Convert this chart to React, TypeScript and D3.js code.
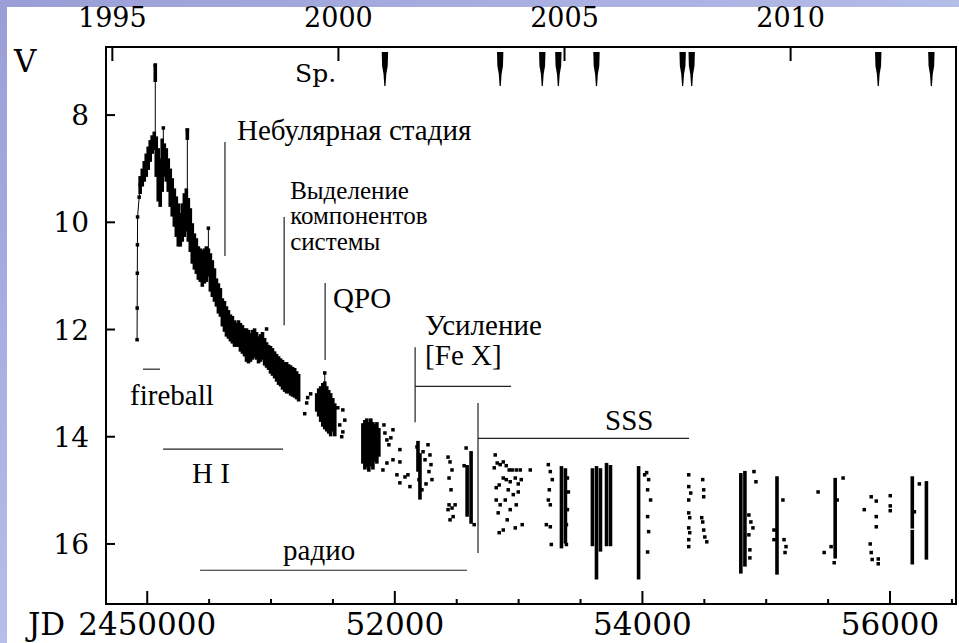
import React from 'react';
import * as d3 from 'd3';

// V light curve of the nova, magnitudes against JD - 2450000

const W = 959;
const H = 643;
const FRAME = { left: 106, top: 47, right: 956, bottom: 604 };

const jdMajorTicks = [0, 2000, 4000, 6000];
const jdMajorLabels = ['2450000', '52000', '54000', '56000'];
const jdMinorTicks = [500, 1000, 1500, 2500, 3000, 3500, 4500, 5000, 5500, 6500];
const yearTicks = [1995, 2000, 2005, 2010];
const magTicks = [8, 10, 12, 14, 16];

// Epochs of spectroscopic observations
const spectraJD = [1920, 2851, 3191, 3321, 3629, 4325, 4398, 5905, 6334];

// Rise to maximum, observations joined by a line: [JD, V]
const risePoints: [number, number][] = [
  [-82, 12.19], [-81, 11.6], [-80, 10.95], [-79, 10.42], [-78, 9.9], [-65, 9.53], [-57, 9.3],
];

// Densely covered intervals: [JD, brightest V, faintest V]
const denseRanges: [number, number, number][] = [
  [-57, 9.17, 9.44], [-40, 9.03, 9.3], [-24, 8.89, 9.21], [-8, 8.75, 9.12], [8, 8.62, 8.99],
  [24, 8.5, 8.84], [40, 8.41, 8.69], [57, 8.34, 8.62], [65, 7.07, 7.35], [73, 8.43, 9.12],
  [89, 8.65, 9.58], [105, 8.84, 9.68], [121, 8.47, 9.4], [138, 8.56, 9.12], [154, 8.65, 9.21],
  [170, 8.84, 9.4], [186, 9.03, 9.68], [202, 9.21, 9.86], [219, 9.4, 10.05], [235, 9.55, 10.24],
  [251, 9.68, 10.42], [267, 9.86, 10.42], [283, 9.68, 10.33], [300, 9.49, 10.24], [316, 9.4, 10.14],
  [324, 8.28, 8.43], [332, 9.58, 10.33], [348, 9.77, 10.52], [364, 10.05, 10.74], [381, 10.24, 10.85],
  [397, 10.33, 10.93], [413, 10.48, 11.04], [429, 10.52, 11.08], [445, 10.55, 11.17], [462, 10.52, 11.11],
  [478, 10.48, 11.08], [494, 10.52, 10.98], [510, 10.61, 11.26], [526, 10.74, 11.36], [543, 10.89, 11.45],
  [559, 11.08, 11.54], [575, 11.17, 11.67], [591, 11.26, 11.73], [607, 11.45, 11.91], [624, 11.5, 12.01],
  [640, 11.6, 12.1], [656, 11.67, 12.14], [672, 11.75, 12.19], [688, 11.78, 12.23], [705, 11.86, 12.29],
  [721, 11.91, 12.29], [737, 11.86, 12.29], [753, 11.91, 12.38], [769, 11.95, 12.42], [786, 12.01, 12.47],
  [802, 12.01, 12.57], [818, 12.04, 12.6], [834, 12.1, 12.57], [850, 12.04, 12.53], [867, 12.01, 12.49],
  [883, 12.08, 12.53], [899, 12.16, 12.6], [915, 12.12, 12.57], [931, 12.08, 12.53], [948, 12.19, 12.64],
  [964, 12.27, 12.68], [980, 12.32, 12.72], [996, 12.34, 12.79], [1012, 12.38, 12.83], [1029, 12.44, 12.88],
  [1045, 12.49, 12.94], [1061, 12.53, 13.0], [1077, 12.57, 13.03], [1093, 12.6, 13.09], [1110, 12.64, 13.13],
  [1126, 12.64, 13.16], [1142, 12.68, 13.16], [1158, 12.7, 13.2], [1174, 12.73, 13.22], [1191, 12.75, 13.24],
  [1207, 12.81, 13.27], [1223, 12.86, 13.31],
  [1369, 13.22, 13.5], [1385, 13.13, 13.59], [1401, 13.09, 13.69], [1418, 13.03, 13.78], [1434, 13.0, 13.83],
  [1450, 13.09, 13.87], [1466, 13.16, 13.91], [1482, 13.22, 13.96], [1499, 13.31, 13.87], [1515, 13.41, 13.96],
  [1742, 13.78, 14.47], [1758, 13.72, 14.58], [1774, 13.69, 14.54], [1790, 13.76, 14.62], [1806, 13.69, 14.52],
  [1823, 13.76, 14.58], [1839, 13.8, 14.43], [1855, 13.76, 14.47], [1871, 13.87, 14.34],
  [2187, 14.11, 14.62], [2203, 14.34, 15.14],
  [2584, 14.56, 15.46], [2616, 14.3, 15.59],
  [3346, 14.58, 16.05], [3378, 14.62, 15.96],
  [3596, 14.62, 16.01], [3629, 14.58, 16.63], [3661, 14.62, 16.11], [3710, 14.52, 16.01], [3742, 14.56, 16.01],
  [3969, 14.58, 16.63],
  [4795, 14.71, 16.52], [4828, 14.67, 16.39],
  [5087, 14.77, 16.54],
  [5557, 14.8, 16.24],
  [6180, 14.77, 15.68], [6180, 15.77, 16.35], [6294, 14.86, 16.26],
];

// Short flares: [JD, peak V, V at the foot of the flare]
const flares: [number, number, number][] = [
  [65, 7.07, 8.4], [130, 8.24, 8.9], [324, 8.28, 9.55], [494, 10.11, 10.6], [1434, 12.81, 13.1],
];

// Single observations: [JD, V]
const singleObs: [number, number][] = [
  [964, 11.99], [1215, 13.26], [1296, 13.27], [1288, 13.37], [1272, 13.57], [1320, 13.2],
  [1539, 13.46], [1555, 13.78], [1580, 13.5], [1580, 13.91], [1571, 14.0], [1596, 13.69],
  [1912, 13.78], [1920, 13.93], [1936, 14.06], [1952, 14.15], [1968, 14.02], [1985, 13.87], [1985, 14.43],
  [2041, 14.24], [2041, 14.47], [1936, 14.49], [1904, 14.62], [2017, 14.71], [2041, 14.86], [2082, 14.75],
  [2122, 14.93], [2106, 14.71],
  [2179, 14.19], [2228, 14.28], [2244, 14.43], [2268, 14.15], [2284, 14.34], [2292, 14.52], [2276, 14.65],
  [2300, 14.8], [2252, 14.88], [2219, 14.99], [2195, 14.8],
  [2430, 14.38], [2446, 14.47], [2462, 14.62], [2438, 14.77], [2454, 14.99], [2438, 15.27], [2430, 15.36],
  [2462, 15.33], [2487, 15.27], [2471, 15.49], [2446, 15.55],
  [2576, 14.21], [2641, 15.64], [2560, 14.54],
  [2811, 14.34], [2827, 14.49], [2803, 14.58], [2851, 14.52], [2876, 14.47], [2900, 14.54], [2924, 14.62],
  [2948, 14.62], [2981, 14.62], [3013, 14.62], [2876, 14.77], [2900, 14.8], [2932, 14.84], [2973, 14.77],
  [2997, 14.88], [3021, 14.8], [2819, 14.95], [2843, 14.9], [2916, 14.99], [2957, 15.08], [2997, 15.03],
  [2819, 15.18], [2851, 15.27], [2892, 15.18], [2932, 15.36], [2981, 15.27], [2835, 15.42], [2908, 15.55],
  [2973, 15.7], [2876, 15.74], [2843, 15.79], [3029, 15.64], [3094, 14.62],
  [3240, 14.52], [3256, 14.65], [3272, 14.8], [3248, 14.99], [3256, 15.27], [3224, 15.64], [3256, 15.68],
  [3264, 16.01], [3240, 15.18], [3394, 14.77], [3402, 15.03], [3394, 15.36], [3386, 15.64], [3386, 16.01],
  [4034, 14.67], [4050, 14.8], [4042, 14.99], [4066, 15.18], [4042, 15.49], [4050, 15.77], [4042, 16.15],
  [4018, 14.71],
  [4374, 14.71], [4374, 14.93], [4390, 15.05], [4374, 15.18], [4374, 15.42], [4382, 15.51], [4374, 15.7],
  [4382, 15.79], [4374, 15.92], [4374, 16.05], [4487, 14.8], [4495, 14.99], [4495, 15.12], [4479, 15.51],
  [4487, 15.59], [4495, 15.74], [4504, 15.87], [4520, 15.96],
  [4901, 14.65], [4917, 14.84], [4876, 15.59], [4893, 15.7], [4868, 16.11], [4868, 16.26], [4860, 15.46],
  [4860, 15.83],
  [5135, 15.18], [5144, 15.92], [5160, 16.05], [5152, 16.16], [5063, 15.74], [5063, 15.92],
  [5419, 15.03], [5468, 16.16], [5549, 16.35], [5621, 14.77], [5524, 16.05], [5573, 15.18],
  [5848, 15.12], [5889, 15.2], [5792, 15.36], [5889, 15.49], [5889, 15.68], [5840, 16.0], [5848, 16.16],
  [5856, 16.29], [5905, 16.28], [5905, 16.37], [6002, 15.1], [6002, 15.29], [6002, 15.38],
  [6237, 14.88], [6197, 15.4],
];

// Horizontal spans of physical phases: [label, JD from, JD to, V level]
const phaseSpans: [string, number, number, number][] = [
  ['fireball', -34, 103, 12.74],
  ['H I', 128, 1097, 14.23],
  ['радио', 427, 2583, 16.49],
];

// Marked events: text lines, JD, V range of the marker line, optional span to JD at V
type EventMark = { key: string; lines: string[]; jd: number; v0: number; v1: number; spanTo?: number; spanV?: number };
const eventMarks: EventMark[] = [
  { key: 'neb', lines: ['Небулярная стадия'], jd: 628, v0: 8.5, v1: 10.63 },
  { key: 'sep', lines: ['Выделение', 'компонентов', 'системы'], jd: 1106, v0: 9.9, v1: 11.92 },
  { key: 'qpo', lines: ['QPO'], jd: 1437, v0: 11.13, v1: 12.57 },
  { key: 'fex', lines: ['Усиление', '[Fe X]'], jd: 2164, v0: 12.33, v1: 13.73, spanTo: 2939, spanV: 13.06 },
  { key: 'sss', lines: ['SSS'], jd: 2672, v0: 13.37, v1: 16.17, spanTo: 4377, spanV: 14.03 },
];

// Text placement relative to each marker (pixels)
const spanLabelOffset: Record<string, [number, number]> = {
  fireball: [-13, 36],
  'H I': [29, 34],
  'радио': [83, -10],
};
const eventLabelStyle: Record<string, { dx: number; dy: number; from: 'top' | 'span'; size: number; lead: number }> = {
  neb: { dx: 12, dy: -2, from: 'top', size: 29, lead: 30 },
  sep: { dx: 6, dy: -18, from: 'top', size: 25, lead: 25.5 },
  qpo: { dx: 8, dy: 25, from: 'top', size: 29, lead: 30 },
  fex: { dx: 10, dy: -12, from: 'top', size: 29, lead: 30 },
  sss: { dx: 127, dy: -8, from: 'span', size: 29, lead: 30 },
};

const AXIS_FONT = "'DejaVu Serif', serif";
const NOTE_FONT = "'Liberation Serif', 'Times New Roman', serif";

const yearToJD = (yr: number) => (yr - 2000) * 365.25 + 1544.5;

export default function App() {
  const x = d3.scaleLinear().domain([-333, 6533]).range([FRAME.left, FRAME.right]);
  const y = d3.scaleLinear().domain([6.73, 17.12]).range([FRAME.top, FRAME.bottom]);

  const riseLine = d3.line<[number, number]>().x((d) => x(d[0])).y((d) => y(d[1]));
  const riseWithJoin: [number, number][] = [...risePoints, [denseRanges[0][0], (denseRanges[0][1] + denseRanges[0][2]) / 2]];

  const dot = 3.5;
  const barW = 3.6;
  const ink = '#000';
  const noteInk = '#222';

  // Spectrum marker: a narrow wedge hanging from the top of the frame
  const spMarker = (cx: number) => {
    const t = 52;
    return `M${cx - 3.2},${t} L${cx + 3.2},${t} L${cx + 2.8},${t + 14} L${cx + 1.4},${t + 22} L${cx + 0.6},${t + 34} L${cx - 0.6},${t + 34} L${cx - 1.4},${t + 22} L${cx - 2.8},${t + 14} Z`;
  };

  return (
    <svg width={W} height={H} viewBox={`0 0 ${W} ${H}`} style={{ position: 'absolute', left: 0, top: 0, background: '#fff' }}>
      <defs>
        <linearGradient id="edgeTop" x1="0" y1="0" x2="1" y2="0">
          <stop offset="0" stopColor="#9a9ed6" />
          <stop offset="1" stopColor="#b4bce8" />
        </linearGradient>
        <linearGradient id="edgeLeft" x1="0" y1="0" x2="0" y2="1">
          <stop offset="0" stopColor="#9a9ed6" />
          <stop offset="1" stopColor="#b6bee9" />
        </linearGradient>
      </defs>
      <rect x={0} y={0} width={W} height={H} fill="#fff" />
      <rect x={0} y={0} width={W} height={7} fill="url(#edgeTop)" />
      <rect x={0} y={0} width={7} height={H} fill="url(#edgeLeft)" />

      {/* phase spans */}
      {phaseSpans.map(([label, a, b, v]) => {
        const [dx, dy] = spanLabelOffset[label];
        return (
          <g key={label}>
            <line x1={x(a)} x2={x(b)} y1={y(v)} y2={y(v)} stroke={noteInk} strokeWidth={1.2} />
            <text x={x(a) + dx} y={y(v) + dy} fontFamily={NOTE_FONT} fontSize={29} fill={ink}>
              {label}
            </text>
          </g>
        );
      })}

      {/* event markers */}
      {eventMarks.map((m) => {
        const st = eventLabelStyle[m.key];
        const lx = x(m.jd);
        const baseY = st.from === 'span' && m.spanV !== undefined ? y(m.spanV) : y(m.v0);
        return (
          <g key={m.key}>
            <line x1={lx} x2={lx} y1={y(m.v0)} y2={y(m.v1)} stroke={noteInk} strokeWidth={1.2} />
            {m.spanTo !== undefined && m.spanV !== undefined && (
              <line x1={lx} x2={x(m.spanTo)} y1={y(m.spanV)} y2={y(m.spanV)} stroke={noteInk} strokeWidth={1.2} />
            )}
            {m.lines.map((t, i) => (
              <text key={t} x={lx + st.dx} y={baseY + st.dy + i * st.lead} fontFamily={NOTE_FONT} fontSize={st.size} fill={ink}>
                {t}
              </text>
            ))}
          </g>
        );
      })}

      {/* light curve */}
      <path d={riseLine(riseWithJoin) ?? ''} fill="none" stroke={ink} strokeWidth={1} />
      {flares.map(([jd, vp, vb], i) => (
        <g key={`f${i}`}>
          <line x1={x(jd)} x2={x(jd)} y1={y(vp)} y2={y(vb)} stroke={ink} strokeWidth={1} />
          <rect x={x(jd) - dot / 2} y={y(vp) - dot / 2} width={dot} height={dot} fill={ink} />
        </g>
      ))}
      {denseRanges.map(([jd, vb, vf], i) => (
        <rect key={`r${i}`} x={x(jd) - barW / 2} y={y(vb) - dot / 2} width={barW} height={y(vf) - y(vb) + dot} fill={ink} />
      ))}
      {risePoints.map(([jd, v], i) => (
        <rect key={`p${i}`} x={x(jd) - dot / 2} y={y(v) - dot / 2} width={dot} height={dot} fill={ink} />
      ))}
      {singleObs.map(([jd, v], i) => (
        <rect key={`s${i}`} x={x(jd) - dot / 2} y={y(v) - dot / 2} width={dot} height={dot} fill={ink} />
      ))}

      {/* spectra */}
      <text x={295} y={82} fontFamily={AXIS_FONT} fontSize={25} fill={ink}>Sp.</text>
      {spectraJD.map((jd) => (
        <path key={`sp${jd}`} d={spMarker(x(jd))} fill={ink} />
      ))}

      {/* frame */}
      <rect x={FRAME.left} y={FRAME.top} width={FRAME.right - FRAME.left} height={FRAME.bottom - FRAME.top} fill="none" stroke={ink} strokeWidth={2} />

      {/* bottom axis */}
      {jdMajorTicks.map((t, i) => (
        <g key={`bt${t}`}>
          <line x1={x(t)} x2={x(t)} y1={FRAME.bottom} y2={FRAME.bottom - 13} stroke={ink} strokeWidth={2} />
          <text x={x(t)} y={635} textAnchor="middle" fontFamily={AXIS_FONT} fontSize={31} fill={ink}>
            {jdMajorLabels[i]}
          </text>
        </g>
      ))}
      <text x={x(0) - 82} y={635} textAnchor="end" fontFamily={AXIS_FONT} fontSize={31} fill={ink}>JD</text>
      {jdMinorTicks.map((t) => (
        <line key={`bm${t}`} x1={x(t)} x2={x(t)} y1={FRAME.bottom} y2={FRAME.bottom - 5} stroke={ink} strokeWidth={2} />
      ))}

      {/* top axis: years */}
      {yearTicks.map((yr) => (
        <g key={`yr${yr}`}>
          <line x1={x(yearToJD(yr))} x2={x(yearToJD(yr))} y1={FRAME.top} y2={FRAME.top + 14} stroke={ink} strokeWidth={2} />
          <text x={x(yearToJD(yr))} y={27} textAnchor="middle" fontFamily={AXIS_FONT} fontSize={27} fill={ink}>
            {yr}
          </text>
        </g>
      ))}

      {/* left axis */}
      {magTicks.map((m) => (
        <g key={`m${m}`}>
          <line x1={FRAME.left} x2={FRAME.left + 9} y1={y(m)} y2={y(m)} stroke={ink} strokeWidth={2} />
          <text x={89} y={y(m) + 10} textAnchor="end" fontFamily={AXIS_FONT} fontSize={28} fill={ink}>
            {m}
          </text>
        </g>
      ))}
      <text x={14} y={72} fontFamily={AXIS_FONT} fontSize={31} fill={ink}>V</text>
    </svg>
  );
}
